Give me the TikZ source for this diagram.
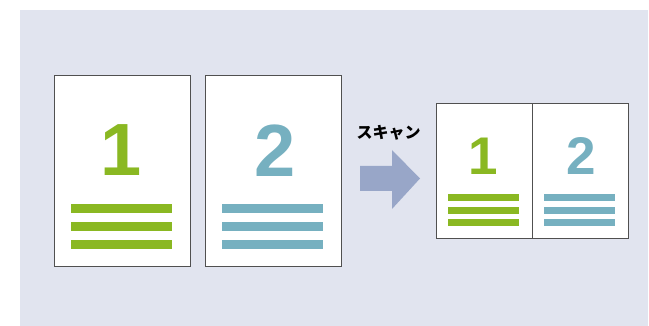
\documentclass[tikz,border=0pt]{standalone}
\usepackage{fontspec}
\setmainfont{Liberation Sans}
\newfontfamily\jpfont{Noto Sans CJK JP}
\definecolor{bgblue}{HTML}{E1E4EF}
\definecolor{pgreen}{HTML}{8AB822}
\definecolor{pteal}{HTML}{76B0C0}
\definecolor{arrowblue}{HTML}{98A6C8}
\definecolor{edgegray}{HTML}{505050}

\begin{document}
\begin{tikzpicture}[x=1pt,y=-1pt,
  page/.style={draw=edgegray,line width=1pt,fill=white,inner sep=0pt},
  bignum/.style={inner sep=0pt,font=\bfseries\fontsize{74}{74}\selectfont},
  smallnum/.style={inner sep=0pt,font=\bfseries\fontsize{53}{53}\selectfont}]
\useasboundingbox (0,0) rectangle (649,326);
\fill[bgblue] (20,10) rectangle (648,326);
% the two pages before scanning
\node[page,minimum width=136pt,minimum height=191pt] (pageone) at (122,171.5) {};
\node[page,minimum width=136pt,minimum height=191pt] (pagetwo) at (273,171.5) {};
\node[bignum,text=pgreen] (numone) at (121,150.5) {1};
\node[bignum,text=pteal] (numtwo) at (275.5,150.5) {2};
\foreach \y in {208.5,226.5,244.5} % text lines
{\draw[pgreen,line width=9pt] (71,\y) -- (172,\y);
\draw[pteal,line width=9pt] (222,\y) -- (323,\y);}
% scan arrow
\node[font=\jpfont\bfseries\fontsize{16}{16}\selectfont,inner sep=0pt] (scanlabel) at (388.5,133) {スキャン};
\fill[arrowblue] (360,166) -- (392,166) -- (392,150) -- (420,178.5) -- (392,209) -- (392,191) -- (360,191) -- cycle;
% scanned result
\node[page,minimum width=192pt,minimum height=135pt] (scanout) at (532,171.5) {};
\draw[edgegray,line width=1pt] (scanout.north) -- (scanout.south);
\node[smallnum,text=pgreen] (scanone) at (483.5,156) {1};
\node[smallnum,text=pteal] (scantwo) at (581,156) {2};
\foreach \y in {197.5,210.5,222.5}
{\draw[pgreen,line width=7pt] (448,\y) -- (519,\y);
\draw[pteal,line width=7pt] (544,\y) -- (615,\y);}
\end{tikzpicture}
\end{document}
